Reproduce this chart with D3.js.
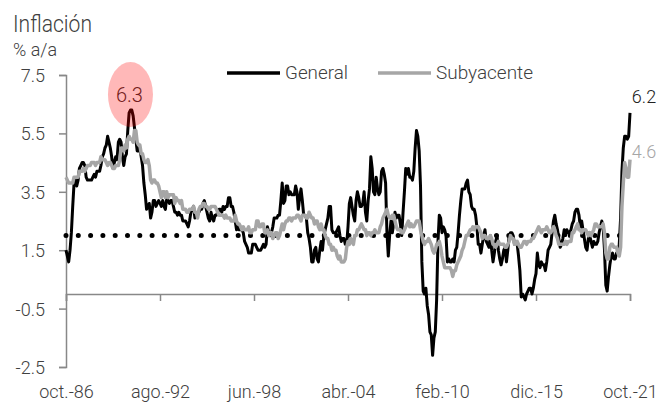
<!DOCTYPE html>
<html>
<head>
<meta charset="utf-8">
<script src="https://cdn.jsdelivr.net/npm/d3@7"></script>
<style>
  body { margin: 0; background: #fff; }
  svg { display: block; }
  text { font-family: Roboto, "Noto Sans", sans-serif; font-weight: 300; fill: #404040; }
</style>
</head>
<body>
<svg id="chart" width="661" height="403"></svg>
<script>
// monthly data, oct.-86 .. oct.-21 (421 months)
const tickLabels = ["oct.-86", "ago.-92", "jun.-98", "abr.-04", "feb.-10", "dic.-15", "oct.-21"];
const yTicks = [-2.5, -0.5, 1.5, 3.5, 5.5, 7.5];
const target = 2;

const general = [
  1.5, 1.3, 1.1,
  1.5, 2.1, 3.0, 3.8, 3.9, 3.7, 3.9, 4.3, 4.4, 4.5, 4.5, 4.4,
  4.0, 3.9, 3.9, 3.9, 3.9, 4.0, 4.1, 4.0, 4.2, 4.2, 4.2, 4.4,
  4.7, 4.8, 5.0, 5.1, 5.4, 5.2, 5.0, 4.7, 4.3, 4.5, 4.7, 4.6,
  5.2, 5.3, 5.2, 4.7, 4.4, 4.7, 4.8, 5.6, 6.2, 6.3, 6.3, 6.1,
  5.7, 5.3, 4.9, 4.9, 5.0, 4.7, 4.4, 3.8, 3.4, 2.9, 3.0, 3.1,
  2.6, 2.8, 3.2, 3.2, 3.0, 3.1, 3.2, 3.1, 3.0, 3.2, 3.0, 2.9,
  3.3, 3.2, 3.1, 3.2, 3.2, 3.0, 2.8, 2.8, 2.7, 2.8, 2.7, 2.7,
  2.5, 2.5, 2.5, 2.4, 2.3, 2.5, 2.8, 2.9, 3.0, 2.6, 2.7, 2.7,
  2.8, 2.9, 2.9, 3.1, 3.2, 3.0, 2.8, 2.6, 2.5, 2.8, 2.6, 2.5,
  2.7, 2.7, 2.8, 2.9, 2.9, 2.8, 3.0, 2.9, 3.0, 3.0, 3.3, 3.3,
  3.0, 3.0, 2.8, 2.5, 2.2, 2.3, 2.2, 2.2, 2.2, 2.1, 1.8, 1.7,
  1.6, 1.4, 1.4, 1.4, 1.7, 1.7, 1.7, 1.6, 1.5, 1.5, 1.5, 1.6,
  1.7, 1.6, 1.7, 2.3, 2.1, 2.0, 2.1, 2.3, 2.6, 2.6, 2.6, 2.7,
  2.7, 3.2, 3.8, 3.1, 3.2, 3.7, 3.7, 3.4, 3.5, 3.4, 3.4, 3.4,
  3.7, 3.5, 2.9, 3.3, 3.6, 3.2, 2.7, 2.7, 2.6, 2.1, 1.9, 1.6,
  1.1, 1.1, 1.5, 1.6, 1.2, 1.1, 1.5, 1.8, 1.5, 2.0, 2.2, 2.4,
  2.6, 3.0, 3.0, 2.2, 2.1, 2.1, 2.1, 2.2, 2.3, 2.0, 1.8, 1.9,
  1.9, 1.7, 1.7, 2.3, 3.1, 3.3, 3.0, 2.7, 2.5, 3.2, 3.5, 3.3,
  3.0, 3.0, 3.1, 3.5, 2.8, 2.5, 3.2, 3.6, 4.7, 4.3, 3.5, 3.4,
  4.0, 3.6, 3.4, 3.5, 4.2, 4.3, 4.1, 3.8, 2.1, 1.3, 2.0, 2.5,
  2.1, 2.4, 2.8, 2.6, 2.7, 2.7, 2.4, 2.0, 2.8, 3.5, 4.3, 4.1,
  4.3, 4.0, 4.0, 3.9, 4.2, 5.0, 5.6, 5.4, 4.9, 3.7, 1.1, 0.1,
  0.0, 0.2, -0.4, -0.7, -1.3, -1.4, -2.1, -1.5, -1.3, -0.2, 1.8, 2.7,
  2.6, 2.1, 2.3, 2.2, 2.0, 1.1, 1.2, 1.1, 1.1, 1.2, 1.1, 1.5,
  1.6, 2.1, 2.7, 3.2, 3.6, 3.6, 3.6, 3.8, 3.9, 3.5, 3.4, 3.0,
  2.9, 2.9, 2.7, 2.3, 1.7, 1.7, 1.4, 1.7, 2.0, 2.2, 1.8, 1.7,
  1.6, 2.0, 1.5, 1.1, 1.4, 1.8, 2.0, 1.5, 1.2, 1.0, 1.2, 1.5,
  1.6, 1.1, 1.5, 2.0, 2.1, 2.1, 2.0, 1.7, 1.7, 1.7, 1.3, 0.8,
  -0.1, 0.0, -0.1, -0.2, 0.0, 0.1, 0.2, 0.2, 0.0, 0.2, 0.5, 0.7,
  1.4, 1.0, 0.9, 1.1, 1.0, 1.0, 0.8, 1.1, 1.5, 1.6, 1.7, 2.1,
  2.5, 2.7, 2.4, 2.2, 1.9, 1.6, 1.7, 1.9, 2.2, 2.0, 2.2, 2.1,
  2.1, 2.2, 2.4, 2.5, 2.8, 2.9, 2.9, 2.7, 2.3, 2.5, 2.2, 1.9,
  1.6, 1.5, 1.9, 2.0, 1.8, 1.6, 1.8, 1.7, 1.7, 1.8, 2.1, 2.3,
  2.5, 2.3, 1.5, 0.3, 0.1, 0.6, 1.0, 1.3, 1.4, 1.2, 1.2, 1.4,
  1.4, 1.7, 2.6, 4.2, 5.0, 5.4, 5.4, 5.3, 5.4, 6.2
];

const subyacente = [
  4.0, 3.9, 3.8,
  3.8, 3.8, 3.8, 4.0, 4.0, 4.0, 4.0, 4.2, 4.2, 4.2, 4.3, 4.2,
  4.3, 4.4, 4.4, 4.4, 4.5, 4.5, 4.5, 4.4, 4.5, 4.5, 4.5, 4.7,
  4.6, 4.6, 4.6, 4.5, 4.4, 4.5, 4.5, 4.4, 4.3, 4.3, 4.4, 4.4,
  4.4, 4.6, 5.0, 5.0, 4.9, 5.1, 5.0, 5.3, 5.4, 5.3, 5.3, 5.2,
  5.6, 5.6, 5.2, 5.1, 5.1, 4.8, 4.8, 4.6, 4.5, 4.5, 4.6, 4.4,
  3.9, 3.8, 3.9, 3.9, 3.8, 3.8, 3.7, 3.5, 3.3, 3.5, 3.5, 3.3,
  3.5, 3.3, 3.4, 3.4, 3.4, 3.4, 3.1, 3.3, 3.2, 3.2, 3.1, 3.2,
  2.9, 2.9, 2.9, 2.8, 2.8, 2.9, 2.9, 2.9, 3.0, 2.8, 2.8, 2.6,
  2.9, 3.0, 3.0, 3.1, 3.1, 3.0, 3.0, 2.9, 2.9, 3.0, 3.0, 3.0,
  3.0, 2.9, 2.8, 2.7, 2.7, 2.7, 2.7, 2.6, 2.7, 2.6, 2.6, 2.6,
  2.5, 2.5, 2.5, 2.7, 2.5, 2.4, 2.4, 2.3, 2.2, 2.3, 2.2, 2.2,
  2.2, 2.3, 2.1, 2.1, 2.2, 2.2, 2.2, 2.5, 2.5, 2.3, 2.3, 2.4,
  2.4, 2.1, 2.1, 2.2, 2.0, 2.1, 2.1, 1.9, 2.0, 2.1, 2.1, 1.9,
  2.0, 2.2, 2.4, 2.2, 2.4, 2.5, 2.5, 2.6, 2.6, 2.5, 2.6, 2.6,
  2.6, 2.7, 2.7, 2.6, 2.5, 2.7, 2.7, 2.7, 2.6, 2.6, 2.8, 2.7,
  2.6, 2.6, 2.4, 2.5, 2.5, 2.3, 2.2, 2.4, 2.2, 2.2, 2.0, 1.9,
  1.9, 1.7, 1.7, 1.5, 1.6, 1.5, 1.5, 1.3, 1.2, 1.3, 1.1, 1.1,
  1.1, 1.2, 1.6, 1.8, 1.7, 1.9, 1.8, 1.7, 2.0, 2.0, 2.2, 2.2,
  2.3, 2.4, 2.3, 2.2, 2.2, 2.0, 2.1, 2.1, 2.0, 2.1, 2.1, 2.2,
  2.1, 2.1, 2.1, 2.3, 2.4, 2.6, 2.7, 2.8, 2.9, 2.7, 2.6, 2.6,
  2.7, 2.7, 2.5, 2.3, 2.2, 2.2, 2.2, 2.1, 2.1, 2.2, 2.3, 2.4,
  2.5, 2.3, 2.4, 2.3, 2.3, 2.4, 2.5, 2.5, 2.5, 2.2, 2.0, 1.8,
  1.7, 1.8, 1.8, 1.9, 1.8, 1.7, 1.5, 1.4, 1.5, 1.7, 1.7, 1.8,
  1.6, 1.3, 1.1, 0.9, 0.9, 0.9, 0.9, 0.9, 0.8, 0.6, 0.8, 0.8,
  1.0, 1.1, 1.2, 1.3, 1.5, 1.6, 1.8, 2.0, 2.0, 2.1, 2.2, 2.2,
  2.3, 2.2, 2.3, 2.3, 2.3, 2.2, 2.1, 1.9, 2.0, 2.0, 1.9, 1.9,
  1.9, 2.0, 1.9, 1.7, 1.7, 1.6, 1.7, 1.8, 1.7, 1.7, 1.7, 1.7,
  1.6, 1.6, 1.7, 1.8, 2.0, 1.9, 1.9, 1.7, 1.7, 1.8, 1.7, 1.6,
  1.6, 1.7, 1.8, 1.8, 1.7, 1.8, 1.8, 1.8, 1.9, 1.9, 2.0, 2.1,
  2.2, 2.3, 2.2, 2.1, 2.2, 2.2, 2.2, 2.3, 2.2, 2.1, 2.1, 2.2,
  2.3, 2.2, 2.0, 1.9, 1.7, 1.7, 1.7, 1.7, 1.7, 1.8, 1.7, 1.8,
  1.8, 1.8, 2.1, 2.1, 2.2, 2.3, 2.4, 2.2, 2.2, 2.1, 2.2, 2.2,
  2.2, 2.1, 2.0, 2.1, 2.0, 2.1, 2.2, 2.4, 2.4, 2.3, 2.3, 2.3,
  2.3, 2.4, 2.1, 1.4, 1.2, 1.2, 1.6, 1.7, 1.7, 1.6, 1.6, 1.6,
  1.4, 1.3, 1.6, 3.0, 3.8, 4.5, 4.3, 4.0, 4.0, 4.6
];

const svg = d3.select("#chart");
const x = d3.scaleLinear().domain([0, general.length - 1]).range([66, 630]);
const y = d3.scaleLinear().domain([-2.5, 7.5]).range([367, 75]);
const fmt = d => d.toFixed(1); // plain hyphen for negatives, like the original

// titles (narrow face in the original, so squeeze a bit)
svg.append("text").attr("x", 13).attr("y", 32).style("font-size", "23px")
  .attr("textLength", 79).attr("lengthAdjust", "spacingAndGlyphs").text("Inflación");
svg.append("text").attr("x", 13).attr("y", 56).style("font-size", "19px")
  .attr("textLength", 44).attr("lengthAdjust", "spacingAndGlyphs").text("% a/a");

// y axis
const yAxis = svg.append("g").attr("transform", "translate(66,0)")
  .call(d3.axisLeft(y).tickValues(yTicks).tickFormat(fmt).tickSizeOuter(0).tickSize(7));
yAxis.select(".domain").attr("stroke", "#888").attr("stroke-width", 1.5);
yAxis.selectAll(".tick line").attr("stroke", "#888").attr("stroke-width", 1.5);
yAxis.selectAll(".tick text").attr("x", -21).attr("dy", "0.36em").style("font-size", "18px")
  .style("font-family", null).attr("fill", null);

// x axis at zero
const xAxis = svg.append("g").attr("transform", `translate(0,${y(0)})`)
  .call(d3.axisBottom(x).tickValues(d3.range(0, general.length, 70))
    .tickFormat((d, i) => tickLabels[i]).tickSizeOuter(0).tickSize(7));
xAxis.select(".domain").attr("stroke", "#888").attr("stroke-width", 1.5);
xAxis.selectAll(".tick line").attr("stroke", "#888").attr("stroke-width", 1.5);
xAxis.selectAll(".tick text").attr("y", 0).attr("dy", 0)
  .attr("transform", `translate(0,${398 - y(0)})`)
  .style("font-size", "18px").style("font-family", null).attr("fill", null);

// target 2%
svg.append("line")
  .attr("x1", 66).attr("x2", 622).attr("y1", y(target)).attr("y2", y(target))
  .attr("stroke", "#000").attr("stroke-width", 5)
  .attr("stroke-linecap", "round").attr("stroke-dasharray", "0 12.3");

const line = d3.line().x((d, i) => x(i)).y(d => y(d));

svg.append("path").datum(general).attr("d", line)
  .attr("fill", "none").attr("stroke", "#000").attr("stroke-width", 3).attr("stroke-linejoin", "round");
svg.append("path").datum(subyacente).attr("d", line)
  .attr("fill", "none").attr("stroke", "#a6a6a6").attr("stroke-width", 3.5).attr("stroke-linejoin", "round");

// peak highlight: label first, translucent ellipse over it
const peakIdx = general.indexOf(d3.max(general));
svg.append("text").attr("x", x(peakIdx) - 1).attr("y", 102).attr("text-anchor", "middle")
  .style("font-size", "20px").style("fill", "#3a2a2a").text(fmt(general[peakIdx]));
svg.append("ellipse").attr("cx", x(peakIdx)).attr("cy", 94.5).attr("rx", 22.5).attr("ry", 32.5)
  .attr("fill", "rgba(255,0,0,0.28)");

// end labels
const last = general.length - 1;
svg.append("text").attr("x", 644).attr("y", 103).attr("text-anchor", "middle")
  .style("font-size", "18px").style("fill", "#222").text(fmt(general[last]));
svg.append("text").attr("x", 644).attr("y", 158).attr("text-anchor", "middle")
  .style("font-size", "18px").style("fill", "#a6a6a6").text(fmt(subyacente[last]));

// legend
const legend = [
  { name: "General", color: "#000", x: 227, w: 63 },
  { name: "Subyacente", color: "#a6a6a6", x: 378, w: 97 }
];
legend.forEach(l => {
  svg.append("line").attr("x1", l.x).attr("x2", l.x + 53).attr("y1", 73).attr("y2", 73)
    .attr("stroke", l.color).attr("stroke-width", 3.5);
  svg.append("text").attr("x", l.x + 58).attr("y", 79).style("font-size", "18px")
    .attr("textLength", l.w).attr("lengthAdjust", "spacingAndGlyphs").text(l.name);
});
</script>
</body>
</html>
